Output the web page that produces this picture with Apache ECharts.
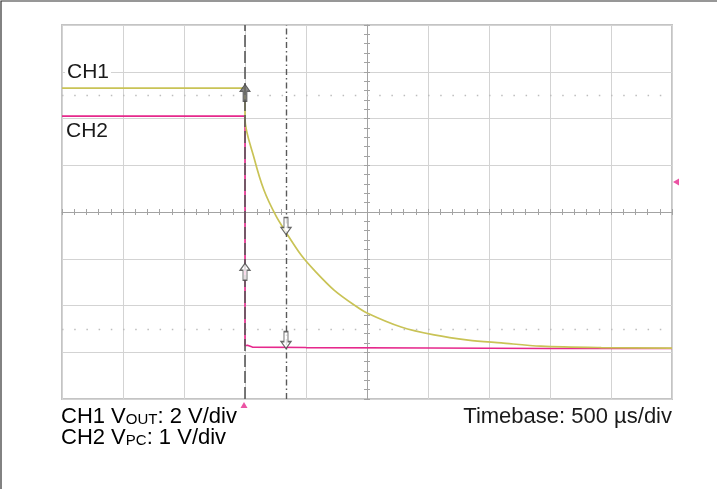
<!DOCTYPE html>
<html>
<head>
<meta charset="utf-8">
<style>
  html, body { margin: 0; padding: 0; background: #ffffff; }
  #chart { width: 717px; height: 489px; }
</style>
<script src="https://cdn.jsdelivr.net/npm/echarts@6/dist/echarts.min.js"></script>
</head>
<body>
<div id="chart"></div>
<script>
// ---- Data (time in µs from trigger, amplitude in screen divisions) ----
const timeAxis = { min: -1500, max: 3500, interval: 500 };   // 500 µs/div, 10 divisions
const divAxis = { min: -4, max: 4, interval: 1 };            // 8 vertical divisions

const ch1Time = [-1500, 0, 0, 75, 155, 255, 335, 460, 580, 730, 895, 1000, 1280, 1550, 1830, 2100, 2425, 2920, 3500];
const ch1Div  = [2.65, 2.65, 1.99, 1.15, 0.47, -0.09, -0.43, -0.92, -1.28, -1.67, -1.99, -2.16, -2.46, -2.63, -2.74, -2.80, -2.87, -2.90, -2.91];

const ch2Time = [-1500, 0, 0, 20, 60, 500, 1500, 2500, 3500];
const ch2Div  = [2.05, 2.05, -2.86, -2.85, -2.89, -2.90, -2.91, -2.92, -2.92];

const cursorTimes = [0, 336];           // cursor 1 (dashed), cursor 2 (dash-dot)
const cursor1Marks = [2.55, -1.28];     // up arrows on cursor 1
const cursor2Marks = [-0.30, -2.74];    // down arrows on cursor 2
const refLevels = [2.5, -2.5];          // dotted reference lines
const triggerLevel = 0.64;              // trigger level marker (right edge)

const labels = {
  ch1: 'CH1', ch2: 'CH2',
  scale1: ['CH1 V', 'OUT', ': 2 V/div'],
  scale2: ['CH2 V', 'PC', ': 1 V/div'],
  timebase: 'Timebase: 500 µs/div'
};

const CH1_COLOR = '#c9c356';
const CH2_COLOR = '#e6288c';
const CURSOR_COLOR = '#595959';
const FONT = '"Liberation Sans", Arial, Helvetica, sans-serif';

const zip = (a, b) => a.map((v, i) => [v, b[i]]);
const upArrow = 'path://M5,0 L10,7 L7,7 L7,17 L3,17 L3,7 L0,7 Z';
const downArrow = 'path://M5,17 L10,10 L7,10 L7,0 L3,0 L3,10 L0,10 Z';

const chart = echarts.init(document.getElementById('chart'), null, { renderer: 'canvas' });

const hiddenAxisBase = {
  axisLabel: { show: false },
  axisLine: { show: false },
  axisTick: { show: false },
  splitLine: { show: false }
};
const crossStyle = { color: '#a3a3a3', width: 1 };
const gridLineStyle = { color: '#d3d3d3', width: 1 };

const option = {
  animation: false,
  backgroundColor: '#ffffff',
  grid: {
    left: 62, top: 25, width: 610, height: 374,
    show: true, borderColor: '#c4c4c4', borderWidth: 2, backgroundColor: 'transparent'
  },
  xAxis: [
    Object.assign({}, hiddenAxisBase, {
      type: 'value', min: timeAxis.min, max: timeAxis.max, interval: timeAxis.interval,
      splitLine: { show: true, lineStyle: gridLineStyle }
    }),
    Object.assign({}, hiddenAxisBase, {
      type: 'value', min: timeAxis.min, max: timeAxis.max, interval: timeAxis.interval,
      position: 'bottom', offset: -187,
      axisLine: { show: true, onZero: false, lineStyle: crossStyle },
      axisTick: { show: true, inside: true, length: 3, lineStyle: crossStyle },
      minorTick: { show: true, splitNumber: 5, length: 3, lineStyle: crossStyle }
    }),
    Object.assign({}, hiddenAxisBase, {
      type: 'value', min: timeAxis.min, max: timeAxis.max, interval: timeAxis.interval,
      position: 'top', offset: -187,
      axisLine: { show: false, onZero: false },
      axisTick: { show: true, inside: true, length: 3, lineStyle: crossStyle },
      minorTick: { show: true, splitNumber: 5, length: 3, lineStyle: crossStyle }
    })
  ],
  yAxis: [
    Object.assign({}, hiddenAxisBase, {
      type: 'value', min: divAxis.min, max: divAxis.max, interval: divAxis.interval,
      splitLine: { show: true, lineStyle: gridLineStyle }
    }),
    Object.assign({}, hiddenAxisBase, {
      type: 'value', min: divAxis.min, max: divAxis.max, interval: divAxis.interval,
      position: 'left', offset: -305,
      axisLine: { show: true, onZero: false, lineStyle: crossStyle },
      axisTick: { show: true, inside: true, length: 3, lineStyle: crossStyle },
      minorTick: { show: true, splitNumber: 5, length: 3, lineStyle: crossStyle }
    }),
    Object.assign({}, hiddenAxisBase, {
      type: 'value', min: divAxis.min, max: divAxis.max, interval: divAxis.interval,
      position: 'right', offset: -305,
      axisLine: { show: false, onZero: false },
      axisTick: { show: true, inside: true, length: 3, lineStyle: crossStyle },
      minorTick: { show: true, splitNumber: 5, length: 3, lineStyle: crossStyle }
    })
  ],
  series: [
    {
      name: 'guides', type: 'line', data: [], z: 1, silent: true,
      markLine: {
        silent: true, symbol: ['none', 'none'], label: { show: false }, animation: false,
        lineStyle: { color: '#bdbdbd', width: 1.3, type: [1.5, 10.7] },
        data: refLevels.map(v => ({ yAxis: v }))
      }
    },
    {
      name: 'CH2', type: 'line', data: zip(ch2Time, ch2Div), z: 3,
      showSymbol: false, smooth: false,
      lineStyle: { color: CH2_COLOR, width: 1.6 }
    },
    {
      name: 'CH1', type: 'line', data: zip(ch1Time, ch1Div), z: 4,
      showSymbol: false, smooth: 0.3,
      lineStyle: { color: CH1_COLOR, width: 1.7 }
    },
    {
      name: 'cursors', type: 'line', data: [], z: 5, silent: true,
      markLine: {
        silent: true, symbol: ['none', 'none'], label: { show: false }, animation: false,
        data: [
          { xAxis: cursorTimes[0], lineStyle: { color: CURSOR_COLOR, width: 1.6, type: [12, 4] } },
          { xAxis: cursorTimes[1], lineStyle: { color: CURSOR_COLOR, width: 1.4, type: [6, 3, 1.5, 3] } }
        ]
      }
    },
    {
      name: 'cursor1Filled', type: 'scatter', z: 6, silent: true,
      data: [[cursorTimes[0], cursor1Marks[0]]],
      symbol: upArrow, symbolSize: [10, 17],
      itemStyle: { color: '#6a6a6a', borderColor: '#444444', borderWidth: 1 }
    },
    {
      name: 'cursor1Open', type: 'scatter', z: 6, silent: true,
      data: [[cursorTimes[0], cursor1Marks[1]]],
      symbol: upArrow, symbolSize: [10, 17],
      itemStyle: { color: '#ffffff', borderColor: '#444444', borderWidth: 1.2 }
    },
    {
      name: 'cursor2Open', type: 'scatter', z: 6, silent: true,
      data: cursor2Marks.map(v => [cursorTimes[1], v]),
      symbol: downArrow, symbolSize: [10, 17],
      itemStyle: { color: '#ffffff', borderColor: '#444444', borderWidth: 1.2 }
    },
    {
      name: 'triggerPos', type: 'scatter', z: 6, silent: true, clip: false,
      data: [[cursorTimes[0], divAxis.min]],
      symbol: 'triangle', symbolSize: [7, 6], symbolOffset: [-1, 6],
      itemStyle: { color: CH2_COLOR }
    },
    {
      name: 'triggerLevel', type: 'scatter', z: 6, silent: true, clip: false,
      data: [[timeAxis.max, triggerLevel]],
      symbol: 'path://M0,5 L8,0 L8,10 Z', symbolSize: [6, 7], symbolOffset: [4, 0],
      itemStyle: { color: CH2_COLOR }
    }
  ],
  graphic: [
    {
      type: 'rect', silent: true, z: 0,
      shape: { x: 1, y: 1, width: 740, height: 520 },
      style: { fill: 'none', stroke: '#303030', lineWidth: 1.2 }
    },
    {
      type: 'text', left: 65, top: 62, silent: true, z: 10,
      style: { text: labels.ch1, font: '21px ' + FONT, fill: '#1a1a1a',
               backgroundColor: '#ffffff', padding: [0, 2, 0, 2] }
    },
    {
      type: 'text', left: 66, top: 121, silent: true, z: 10,
      style: { text: labels.ch2, font: '21px ' + FONT, fill: '#1a1a1a' }
    },
    {
      type: 'text', left: 61, top: 406, silent: true,
      style: {
        text: '{a|' + labels.scale1[0] + '}{s|' + labels.scale1[1] + '}{a|' + labels.scale1[2] + '}\n' +
              '{a|' + labels.scale2[0] + '}{s|' + labels.scale2[1] + '}{a|' + labels.scale2[2] + '}',
        rich: {
          a: { fontSize: 22, fontFamily: FONT, color: '#1a1a1a', lineHeight: 21, verticalAlign: 'middle' },
          s: { fontSize: 15, fontFamily: FONT, color: '#1a1a1a', lineHeight: 13, verticalAlign: 'bottom' }
        }
      }
    },
    {
      type: 'text', right: 45, top: 406, silent: true,
      style: { text: labels.timebase, font: '22px ' + FONT, fill: '#1a1a1a', textAlign: 'right' }
    }
  ]
};

chart.setOption(option);
</script>
</body>
</html>
